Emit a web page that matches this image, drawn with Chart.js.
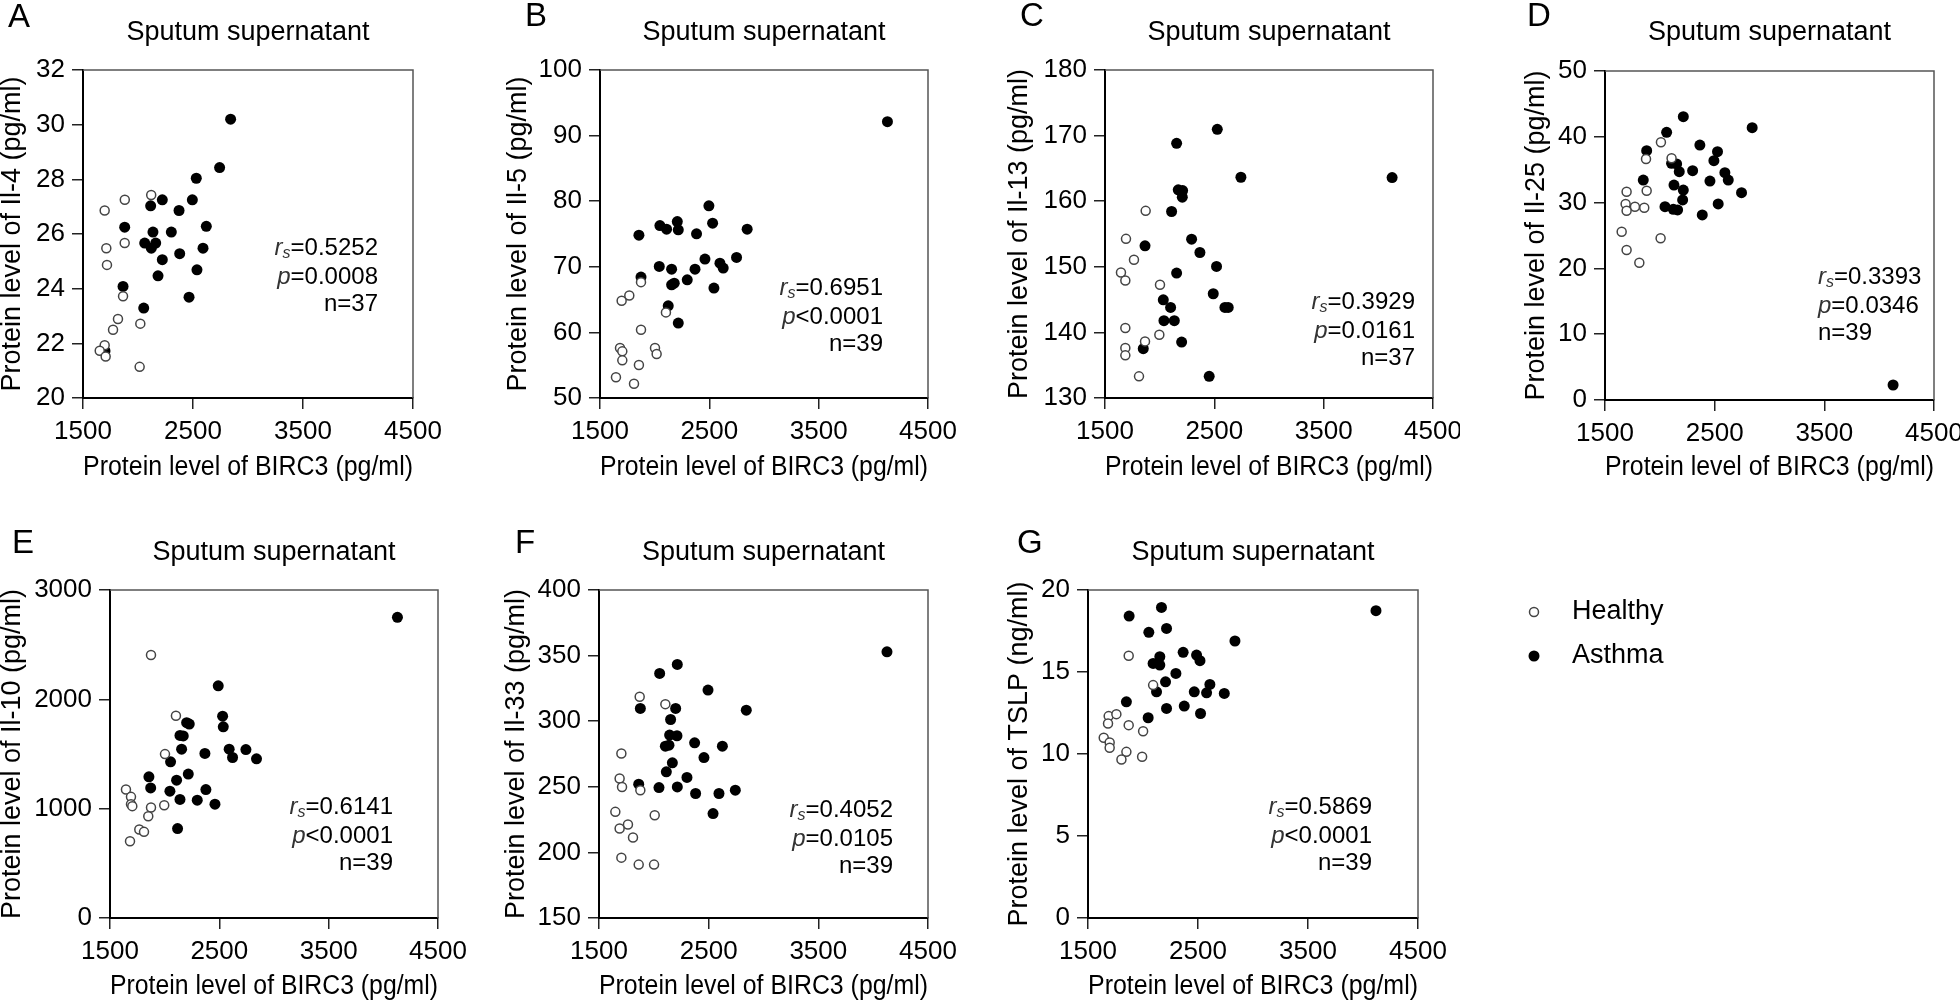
<!DOCTYPE html>
<html>
<head>
<meta charset="utf-8">
<script src="https://cdn.jsdelivr.net/npm/chart.js@4.4.1/dist/chart.umd.min.js"></script>
<style>
  html, body { margin: 0; padding: 0; background: #fff; }
  body { width: 1960px; height: 1002px; position: relative; overflow: hidden; }
  canvas { position: absolute; }
</style>
</head>
<body>
<canvas id="cA"></canvas>
<canvas id="cB"></canvas>
<canvas id="cC"></canvas>
<canvas id="cD"></canvas>
<canvas id="cE"></canvas>
<canvas id="cF"></canvas>
<canvas id="cG"></canvas>
<script>
// BIRC3 on x for every panel
const xRange = [1500, 4500, 1000];

// A - Il-4
const il4Healthy = [[1697,26.86],[1880,27.25],[2120,27.43],[1712,25.48],[1879,25.67],[1718,24.87],[1864,23.72],[1818,22.89],[1773,22.50],[2021,22.72],[1697,21.93],[1652,21.73],[1706,21.52],[2015,21.14]];
const il4Asthma = [[2842,30.20],[2742,28.43],[2530,28.04],[2494,27.25],[2221,27.25],[2115,27.03],[2373,26.86],[1879,26.25],[2621,26.28],[2136,26.07],[2303,26.07],[2061,25.67],[2161,25.67],[2121,25.48],[2591,25.48],[2221,25.06],[2379,25.28],[2536,24.69],[2182,24.47],[1864,24.08],[2464,23.69],[2052,23.29],[1700,21.72]];

// B - Il-5
const il5Healthy = [[1875,67.66],[1698,64.82],[1768,65.63],[2103,63.05],[1875,60.41],[1683,57.61],[1704,57.11],[1704,55.74],[2003,57.61],[2018,56.70],[1856,55.03],[1646,53.15],[1811,52.18]];
const il5Asthma = [[4129,92.13],[2496,79.29],[1856,74.82],[2048,76.29],[2109,75.74],[2207,76.90],[2216,75.63],[2383,75.03],[2530,76.65],[2846,75.74],[2042,70.05],[2155,69.64],[2369,69.64],[2460,71.17],[2597,70.56],[2627,69.80],[2749,71.42],[1875,68.43],[2155,67.26],[2179,67.51],[2298,68.02],[2542,66.75],[2124,64.06],[2216,61.42]];

// C - Il-13
const il13Healthy = [[1872,158.53],[1692,154.26],[1765,151.07],[1646,149.14],[1686,147.92],[2003,147.26],[1686,140.66],[1866,138.63],[1997,139.64],[1686,137.61],[1686,136.50],[1811,133.30]];
const il13Asthma = [[4126,163.6],[2527,170.96],[2155,168.83],[2743,163.65],[2170,161.73],[2210,161.62],[2207,160.61],[2109,158.43],[2292,154.21],[1866,153.20],[2368,152.18],[2520,150.05],[2155,149.04],[2490,145.89],[2033,144.97],[2100,143.81],[2597,143.81],[2627,143.81],[2039,141.78],[2134,141.78],[2201,138.53],[1850,137.51],[2453,133.30]];

// D - Il-25
const il25Healthy = [[2010,39.16],[2107,36.73],[1874,36.63],[1880,31.81],[1697,31.66],[1688,29.79],[1773,29.38],[1858,29.23],[1697,28.77],[1652,25.58],[2007,24.57],[1697,22.80],[1813,20.87]];
const il25Asthma = [[4127,2.28],[2214,43.06],[2842,41.39],[2062,40.68],[2365,38.75],[2526,37.74],[1880,37.89],[2493,36.37],[2107,35.97],[2153,35.87],[2177,34.70],[2299,34.85],[2593,34.55],[2624,33.43],[2457,33.28],[1849,33.43],[2129,32.67],[2214,31.91],[2745,31.51],[2208,30.40],[2047,29.38],[2123,28.98],[2162,28.88],[2532,29.79],[2387,28.12]];

// E - Il-10
const il10Healthy = [[1875,2405],[2103,1850],[2003,1499],[1646,1175],[1692,1108],[1692,1041],[1704,1023],[1875,1010],[1996,1032],[1850,931],[1768,809],[1811,788],[1683,702]];
const il10Asthma = [[4129,2750],[2490,2124],[2530,1846],[2536,1749],[2201,1786],[2225,1774],[2140,1670],[2170,1665],[2155,1544],[2590,1544],[2621,1468],[2743,1541],[2840,1456],[2368,1505],[2054,1428],[1856,1291],[1872,1190],[2109,1261],[2216,1316],[2048,1160],[2140,1084],[2298,1078],[2377,1175],[2460,1041],[2118,818]];

// F - Il-33
const il33Healthy = [[1871,318.6],[2105,313.0],[1704,275.4],[1688,256.3],[1710,249.9],[1877,247.4],[1649,230.9],[2008,228.3],[1764,221.2],[1688,218.2],[1810,211.3],[1704,196.0],[1862,190.7],[2002,190.7]];
const il33Asthma = [[4126,352.9],[2214,343.3],[2053,336.4],[2494,323.7],[1877,309.7],[2199,309.7],[2843,308.4],[2153,301.3],[2144,289.4],[2211,288.9],[2105,281.0],[2138,281.7],[2372,283.5],[2625,281.0],[2457,272.3],[2169,268.3],[2114,261.4],[2302,257.1],[1862,252.0],[2047,249.4],[2214,249.9],[2381,244.9],[2594,244.9],[2743,247.4],[2540,229.6]];

// G - TSLP
const tslpHealthy = [[1870,15.99],[2092,14.20],[1688,12.31],[1758,12.43],[1682,11.86],[1870,11.76],[2001,11.39],[1643,10.99],[1697,10.70],[1697,10.38],[1849,10.13],[1804,9.66],[1992,9.83]];
const tslpAsthma = [[4118,18.74],[2168,18.94],[1874,18.41],[2214,17.66],[2053,17.42],[2836,16.89],[2365,16.20],[2487,16.03],[2518,15.69],[2153,15.93],[2092,15.52],[2153,15.42],[2299,14.91],[2205,14.40],[2608,14.24],[2578,13.73],[2123,13.79],[2466,13.79],[2739,13.69],[1849,13.18],[2214,12.78],[2375,12.92],[2523,12.47],[2047,12.21]];

const letters = ['A', 'B', 'C', 'D', 'E', 'F', 'G'];
const yLabels = ['Protein level of Il-4 (pg/ml)', 'Protein level of Il-5 (pg/ml)', 'Protein level of Il-13 (pg/ml)',
  'Protein level of Il-25 (pg/ml)', 'Protein level of Il-10 (pg/ml)', 'Protein level of Il-33 (pg/ml)', 'Protein level of TSLP (ng/ml)'];
const yRanges = [[20, 32, 2], [50, 100, 10], [130, 180, 10], [0, 50, 10], [0, 3000, 1000], [150, 400, 50], [0, 20, 5]];
const rsValues = ['0.5252', '0.6951', '0.3929', '0.3393', '0.6141', '0.4052', '0.5869'];
const pValues = ['=0.0008', '<0.0001', '=0.0161', '=0.0346', '<0.0001', '=0.0105', '<0.0001'];
const nValues = ['37', '39', '37', '39', '39', '39', '39'];
const healthySets = [il4Healthy, il5Healthy, il13Healthy, il25Healthy, il10Healthy, il33Healthy, tslpHealthy];
const asthmaSets = [il4Asthma, il5Asthma, il13Asthma, il25Asthma, il10Asthma, il33Asthma, tslpAsthma];

const FONT = '"Liberation Sans", Arial, sans-serif';
Chart.defaults.font.family = FONT;
Chart.defaults.color = '#000';

// page layout: canvas box, plot box, letter, title centre, y title centre, stats anchor, x title centre
const panels = [
  { id: 'cA', box: [0, 0, 480, 500],     plot: [83, 70, 413, 398],    letter: [8, 27],     titleY: 33,  yTitle: 13,   xTitle: 468, stats: [378, 248, 'right'] },
  { id: 'cB', box: [480, 0, 490, 500],   plot: [600, 70, 928, 398],   letter: [525, 26],   titleY: 33,  yTitle: 519,  xTitle: 468, stats: [883, 288, 'right'] },
  { id: 'cC', box: [970, 0, 490, 500],   plot: [1105, 70, 1433, 398], letter: [1020, 26],  titleY: 33,  yTitle: 1020, xTitle: 468, stats: [1415, 302, 'right'] },
  { id: 'cD', box: [1460, 0, 500, 500],  plot: [1605, 71, 1934, 400], letter: [1527, 26],  titleY: 33,  yTitle: 1537, xTitle: 468, stats: [1818, 277, 'left'] },
  { id: 'cE', box: [0, 500, 480, 502],   plot: [110, 590, 438, 918],  letter: [12, 553],   titleY: 553, yTitle: 13,   xTitle: 987, stats: [393, 807, 'right'] },
  { id: 'cF', box: [480, 500, 490, 502], plot: [599, 590, 928, 918],  letter: [515, 553],  titleY: 553, yTitle: 517,  xTitle: 987, stats: [893, 810, 'right'] },
  { id: 'cG', box: [970, 500, 990, 502], plot: [1088, 590, 1418, 918], letter: [1017, 553], titleY: 553, yTitle: 1020, xTitle: 987, stats: [1372, 807, 'right'], legend: [1534, 612, 44] }
];

function drawRuns(ctx, runs, x, y, align) {
  let w = 0;
  runs.forEach(r => { ctx.font = r.font; w += ctx.measureText(r.text).width; });
  let cx = align === 'right' ? x - w : x;
  runs.forEach(r => {
    ctx.font = r.font;
    ctx.fillStyle = r.color || '#000';
    ctx.fillText(r.text, cx, y + (r.dy || 0));
    cx += ctx.measureText(r.text).width;
  });
}

function makePanel(i) {
  const p = panels[i];
  const [bx, by, bw, bh] = p.box;
  const [pl, pt, pr, pb] = p.plot;
  const canvas = document.getElementById(p.id);
  canvas.width = bw;
  canvas.height = bh;
  canvas.style.left = bx + 'px';
  canvas.style.top = by + 'px';

  const titleC = p.titleY - by;
  const decor = {
    id: 'decor' + i,
    afterDraw(chart) {
      const { ctx, chartArea: a } = chart;
      ctx.save();
      // thin frame on top and right
      ctx.strokeStyle = '#555';
      ctx.lineWidth = 1.5;
      ctx.beginPath();
      ctx.moveTo(a.left, a.top);
      ctx.lineTo(a.right, a.top);
      ctx.lineTo(a.right, a.bottom);
      ctx.stroke();

      ctx.fillStyle = '#000';
      ctx.textAlign = 'left';
      ctx.textBaseline = 'alphabetic';
      ctx.font = '33px ' + FONT;
      ctx.fillText(letters[i], p.letter[0] - bx, p.letter[1] - by);

      // correlation stats
      ctx.textBaseline = 'middle';
      const sx = p.stats[0] - bx, sy = p.stats[1] - by, al = p.stats[2];
      const nf = '24px ' + FONT, itf = 'italic 24px ' + FONT;
      drawRuns(ctx, [
        { text: 'r', font: itf, color: '#333' },
        { text: 's', font: 'italic 16px ' + FONT, color: '#333', dy: 6 },
        { text: '=' + rsValues[i], font: nf }
      ], sx, sy, al);
      drawRuns(ctx, [
        { text: 'p', font: itf, color: '#333' },
        { text: pValues[i], font: nf }
      ], sx, sy + 29, al);
      drawRuns(ctx, [{ text: 'n=' + nValues[i], font: nf }], sx, sy + 56, al);

      if (p.legend) {
        const [lx, ly, gap] = p.legend;
        chart.data.datasets.forEach((ds, k) => {
          const cx = lx - bx, cy = ly - by + k * gap;
          ctx.beginPath();
          ctx.arc(cx, cy, ds.pointRadius, 0, Math.PI * 2);
          ctx.fillStyle = ds.backgroundColor;
          ctx.fill();
          if (ds.borderWidth) {
            ctx.lineWidth = ds.borderWidth;
            ctx.strokeStyle = ds.borderColor;
            ctx.stroke();
          }
          ctx.fillStyle = '#000';
          ctx.textAlign = 'left';
          ctx.font = '27px ' + FONT;
          ctx.fillText(ds.label, cx + 38, cy);
        });
      }
      ctx.restore();
    }
  };

  const [ymin, ymax, ystep] = yRanges[i];
  const tickGrid = { drawOnChartArea: false, drawTicks: true, tickLength: 11, color: '#222', lineWidth: 1.5 };

  new Chart(canvas, {
    type: 'scatter',
    data: {
      datasets: [{
        label: 'Healthy',
        data: healthySets[i].map(([x, y]) => ({ x, y })),
        pointRadius: 4.5,
        backgroundColor: '#fff',
        borderColor: '#444',
        borderWidth: 1.5
      }, {
        label: 'Asthma',
        data: asthmaSets[i].map(([x, y]) => ({ x, y })),
        pointRadius: 5.5,
        backgroundColor: '#000',
        borderColor: '#000',
        borderWidth: 0
      }]
    },
    options: {
      responsive: false,
      animation: false,
      events: [],
      layout: { padding: { top: 0, left: 0, bottom: 0, right: bx + bw - pr } },
      plugins: {
        legend: { display: false },
        tooltip: { enabled: false },
        title: {
          display: true,
          fullSize: false,
          text: 'Sputum supernatant',
          font: { size: 27, weight: 'normal', lineHeight: 1 },
          padding: { top: titleC - 13.5, bottom: (pt - by) - titleC - 13.5 }
        }
      },
      scales: {
        x: {
          type: 'linear',
          min: xRange[0], max: xRange[1],
          ticks: { stepSize: xRange[2], padding: 7, font: { size: 26 }, callback: v => String(v) },
          grid: tickGrid,
          border: { display: true, color: '#000', width: 2 },
          title: { display: true, text: 'Protein level of BIRC3 (pg/ml)', font: { size: 27, lineHeight: 1 },
                   padding: { top: 0, bottom: (by + bh) - p.xTitle - 13.5 } },
          afterFit(s) { s.height = by + bh - pb; s.paddingLeft = 0; s.paddingRight = 0; }
        },
        y: {
          type: 'linear',
          min: ymin, max: ymax,
          ticks: { stepSize: ystep, padding: 7, font: { size: 26 }, callback: v => String(v) },
          grid: tickGrid,
          border: { display: true, color: '#000', width: 2 },
          title: { display: true, text: yLabels[i], font: { size: 27, lineHeight: 1 },
                   padding: { top: (p.yTitle - bx) - 13.5, bottom: 0 } },
          afterFit(s) { s.width = pl - bx; s.paddingTop = 0; s.paddingBottom = 0; }
        }
      }
    },
    plugins: [decor]
  });
}

panels.forEach((p, i) => makePanel(i));
</script>
</body>
</html>
